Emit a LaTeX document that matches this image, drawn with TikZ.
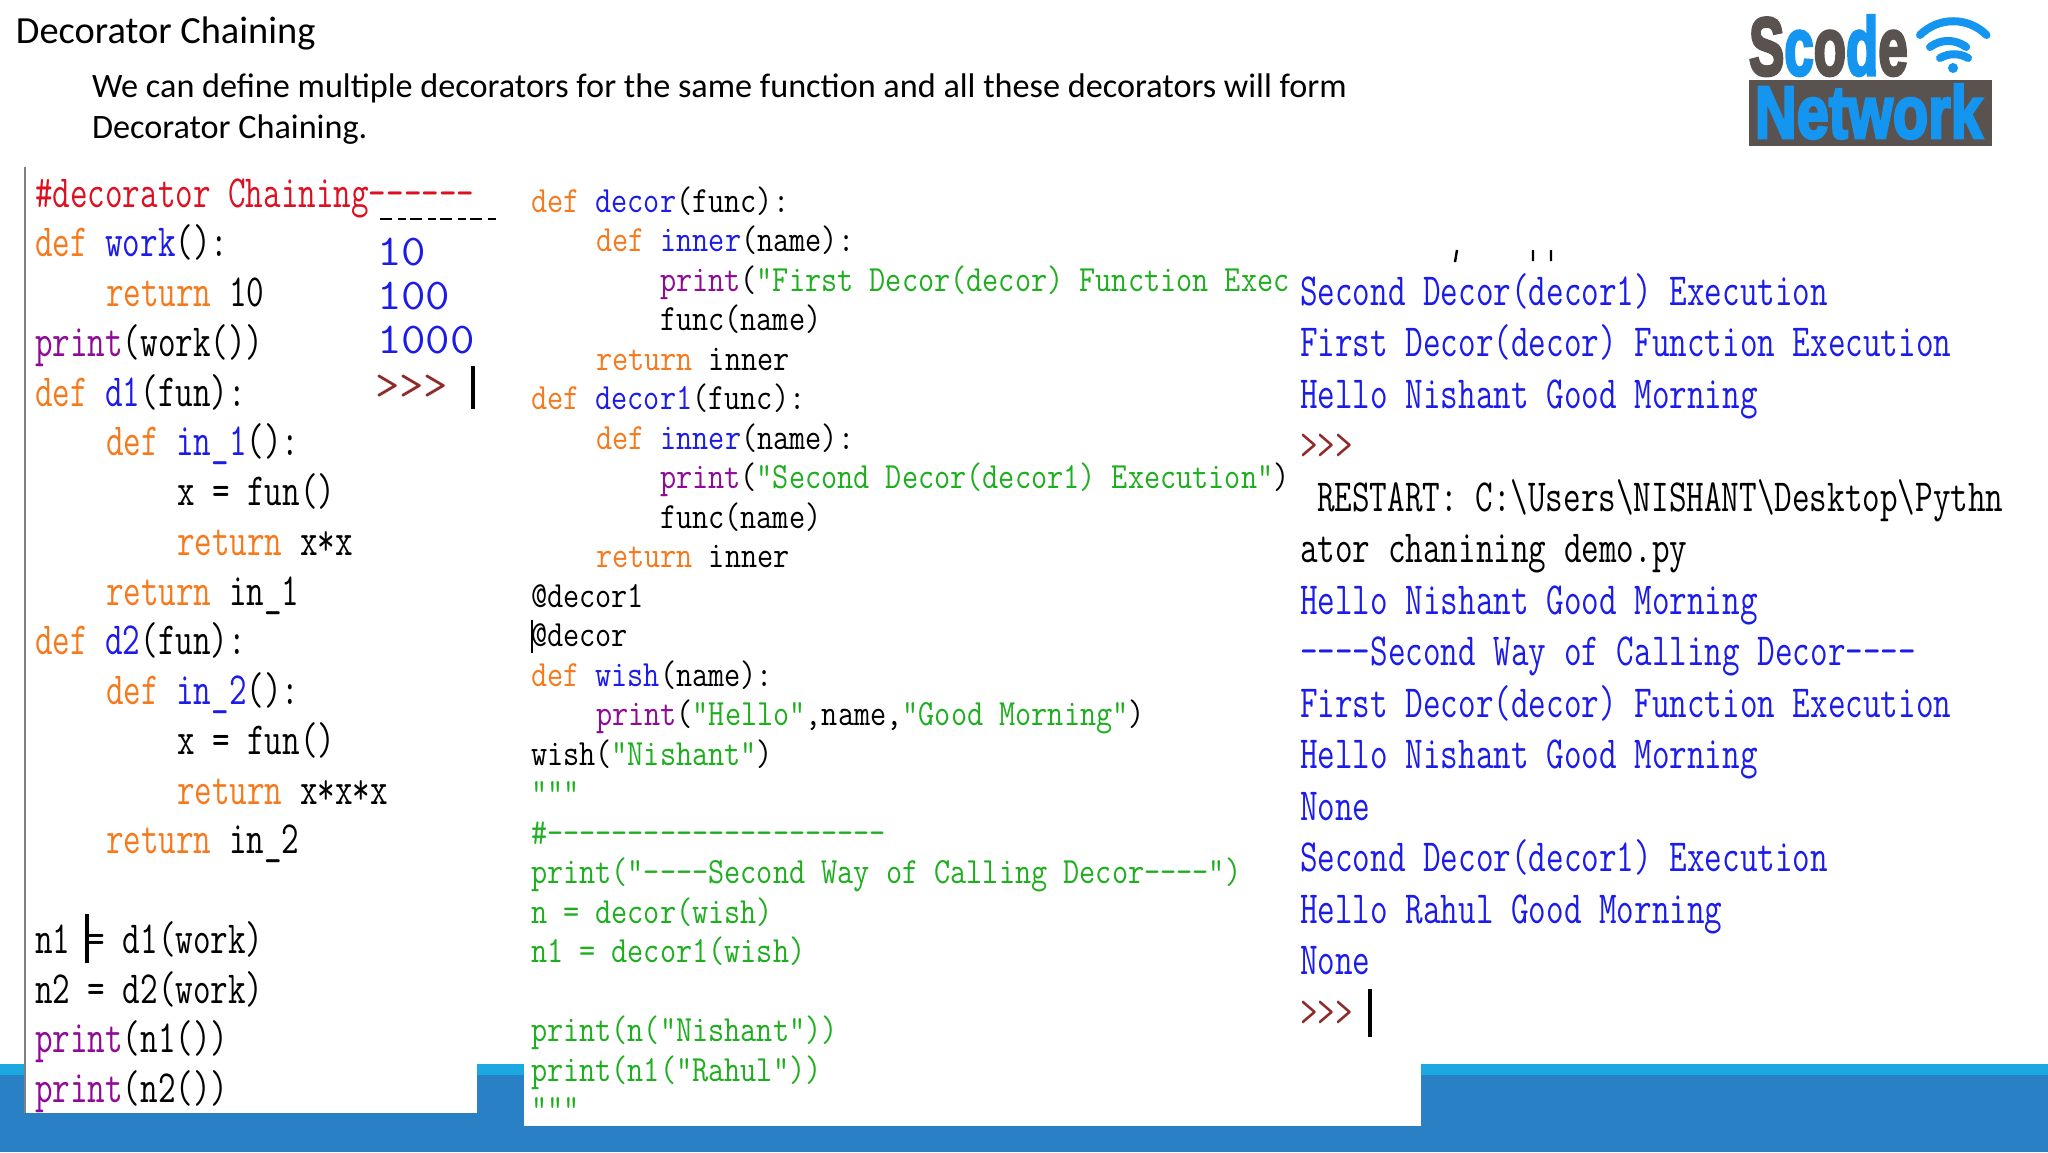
\documentclass[tikz,border=0pt]{standalone}
\usepackage{fontspec}
\setmainfont{Carlito}
\newfontfamily\logofont[FakeBold=4]{Liberation Sans Bold}
\definecolor{kwo}{HTML}{F57A1E}
\definecolor{fnb}{HTML}{1C1CE8}
\definecolor{bip}{HTML}{8F0A96}
\definecolor{str}{HTML}{1FAE1F}
\definecolor{cmr}{HTML}{DD1022}
\definecolor{prm}{HTML}{8E2A2A}
\definecolor{stripe}{HTML}{1CA8E0}
\definecolor{band}{HTML}{2980C4}
\definecolor{logog}{HTML}{59524F}
\definecolor{logob}{HTML}{1496F0}
\newcommand\K[1]{\textcolor{kwo}{#1}}
\newcommand\F[1]{\textcolor{fnb}{#1}}
\newcommand\B[1]{\textcolor{bip}{#1}}
\newcommand\G[1]{\textcolor{str}{#1}}
\newcommand\lcode[4]{\node[leftcode] (#1) at (#2,{207+49.75*#3}) {#4};}
\newcommand\mcode[4]{\node[midcode] (#1) at (#2,{212+39.5*#3}) {#4};}
\newcommand\rcode[4]{\node[rightcode] (#1) at (#2,{305+51.5*#3}) {#4};}
\tikzset{
  x=0.5pt,y=-0.5pt,
  textline/.style={anchor=base west,inner sep=0pt,outer sep=0pt},
  leftcode/.style={textline,font=\fontsize{23}{23}\selectfont\ttfamily,xscale=.742,transform shape},
  midcode/.style={textline,font=\fontsize{18.5}{18.5}\selectfont\ttfamily,xscale=.847,transform shape},
  rightcode/.style={textline,font=\fontsize{23}{23}\selectfont\ttfamily,text=fnb,xscale=.743,transform shape},
  outcode/.style={textline,font=\fontsize{22}{22}\selectfont\ttfamily,text=fnb,xscale=1.08,transform shape},
  cursor/.style={line width=1.6pt,black},
  lineone/.style={textline,font=\fontsize{19.2}{19.2}\selectfont},
  linetwo/.style={textline,font=\fontsize{17.1}{17.1}\selectfont},
  wifiarc/.style={logob,line width=4pt,line cap=round},
}
\begin{document}
\begin{tikzpicture}
\useasboundingbox (0,0) rectangle (2048,1152);
\fill[white] (0,0) rectangle (2048,1152);
\fill[stripe] (0,1064) rectangle (2048,1075);
\fill[band] (0,1075) rectangle (2048,1152);
\fill[white] (26,167) rectangle (477,1113);
\fill[white] (524,167) rectangle (1421,1126);
\coordinate (railA) at (25,167);
\coordinate (railB) at (25,1113);
\draw[gray,line width=.8pt] (railA) -- (railB);

\node[lineone] (title) at (16,43) {Decorator Chaining};
\node[linetwo] (bodya) at (92,97) {We can define multiple decorators for the same function and all these decorators will form};
\node[linetwo] (bodyb) at (92,138) {Decorator Chaining.};

% left source
\lcode{la}{35}{0}{\textcolor{cmr}{\#decorator Chaining------}}
\lcode{lb}{35}{1}{\K{def} \F{work}():}
\lcode{lc}{106}{2}{\K{return} 10}
\lcode{ld}{35}{3}{\B{print}(work())}
\lcode{le}{35}{4}{\K{def} \F{d1}(fun):}
\lcode{lf}{106}{5}{\K{def} \F{in\_1}():}
\lcode{lg}{177}{6}{x = fun()}
\lcode{lh}{177}{7}{\K{return} x*x}
\lcode{li}{106}{8}{\K{return} in\_1}
\lcode{lj}{35}{9}{\K{def} \F{d2}(fun):}
\lcode{lk}{106}{10}{\K{def} \F{in\_2}():}
\lcode{ll}{177}{11}{x = fun()}
\lcode{lm}{177}{12}{\K{return} x*x*x}
\lcode{ln}{106}{13}{\K{return} in\_2}
\lcode{lo}{35}{15}{n1 = d1(work)}
\lcode{lp}{35}{16}{n2 = d2(work)}
\lcode{lq}{35}{17}{\B{print}(n1())}
\lcode{lr}{35}{18}{\B{print}(n2())}
\coordinate (curAa) at (87,914);
\coordinate (curAb) at (87,963);
\draw[cursor] (curAa) -- (curAb);

% small output
\coordinate (dashA) at (380,219);
\coordinate (dashB) at (498,219);
\draw[black,line width=.8pt,dash pattern=on 6pt off 3pt on 4pt off 2pt] (dashA) -- (dashB);
\node[outcode] (oa) at (377,265) {10};
\node[outcode] (ob) at (377,309) {100};
\node[outcode] (oc) at (377,353) {1000};
\node[outcode,text=prm] (od) at (375,399) {>>>};
\coordinate (curBa) at (473,366);
\coordinate (curBb) at (473,409);
\draw[cursor] (curBa) -- (curBb);

% middle source
\mcode{ma}{531}{0}{\K{def} \F{decor}(func):}
\mcode{mb}{596}{1}{\K{def} \F{inner}(name):}
\mcode{mc}{660}{2}{\B{print}(\G{"First Decor(decor) Function Exec}}
\mcode{md}{660}{3}{func(name)}
\mcode{me}{596}{4}{\K{return} inner}
\mcode{mf}{531}{5}{\K{def} \F{decor1}(func):}
\mcode{mg}{596}{6}{\K{def} \F{inner}(name):}
\mcode{mh}{660}{7}{\B{print}(\G{"Second Decor(decor1) Execution"})}
\mcode{mi}{660}{8}{func(name)}
\mcode{mj}{596}{9}{\K{return} inner}
\mcode{mk}{531}{10}{@decor1}
\mcode{ml}{531}{11}{@decor}
\mcode{mm}{531}{12}{\K{def} \F{wish}(name):}
\mcode{mn}{596}{13}{\B{print}(\G{"Hello"},name,\G{"Good Morning"})}
\mcode{mo}{531}{14}{wish(\G{"Nishant"})}
\mcode{mp}{531}{15}{\G{"""}}
\mcode{mq}{531}{16}{\G{\#---------------------}}
\mcode{mr}{531}{17}{\G{print("----Second Way of Calling Decor----")}}
\mcode{ms}{531}{18}{\G{n = decor(wish)}}
\mcode{mt}{531}{19}{\G{n1 = decor1(wish)}}
\mcode{mu}{531}{21}{\G{print(n("Nishant"))}}
\mcode{mv}{531}{22}{\G{print(n1("Rahul"))}}
\mcode{mw}{531}{23}{\G{"""}}
\coordinate (curCa) at (532,620);
\coordinate (curCb) at (532,653);
\draw[black,line width=.7pt] (curCa) -- (curCb);

% right output
\coordinate (fragA) at (1533,250);
\coordinate (fragB) at (1533,261);
\coordinate (fragC) at (1551,250);
\coordinate (fragD) at (1551,261);
\coordinate (fragE) at (1457,250);
\coordinate (fragF) at (1455,262);
\draw[black,line width=1.2pt] (fragA) -- (fragB) (fragC) -- (fragD) (fragE) -- (fragF);
\rcode{ra}{1300}{0}{Second Decor(decor1) Execution}
\rcode{rb}{1300}{1}{First Decor(decor) Function Execution}
\rcode{rc}{1300}{2}{Hello Nishant Good Morning}
\rcode{rd}{1300}{3}{\textcolor{prm}{>>>}}
\rcode{re}{1317}{4}{\textcolor{black}{RESTART: C:\textbackslash Users\textbackslash NISHANT\textbackslash Desktop\textbackslash Pythn}}
\rcode{rf}{1300}{5}{\textcolor{black}{ator chanining demo.py}}
\rcode{rg}{1300}{6}{Hello Nishant Good Morning}
\rcode{rh}{1300}{7}{----Second Way of Calling Decor----}
\rcode{ri}{1300}{8}{First Decor(decor) Function Execution}
\rcode{rj}{1300}{9}{Hello Nishant Good Morning}
\rcode{rk}{1300}{10}{None}
\rcode{rl}{1300}{11}{Second Decor(decor1) Execution}
\rcode{rm}{1300}{12}{Hello Rahul Good Morning}
\rcode{rn}{1300}{13}{None}
\rcode{ro}{1300}{14}{\textcolor{prm}{>>>}}
\coordinate (curDa) at (1370,989);
\coordinate (curDb) at (1370,1037);
\draw[cursor] (curDa) -- (curDb);

% logo
\fill[logog] (1749,80) rectangle (1992,146);
\node[textline,font=\fontsize{37}{37}\logofont,text=logob,xscale=.78,transform shape] (network) at (1755,138) {Network};
\node[textline,font=\fontsize{41}{41}\logofont,xscale=.645,transform shape] (scode) at (1749,75) {\textcolor{logog}{S}\textcolor{logob}{c}\textcolor{logog}{o}\textcolor{logob}{d}\textcolor{logog}{e}};
\fill[logob] (1953,68) circle (5);
\draw[wifiarc] (1940,58) arc[start angle=-120,end angle=-60,radius=28];
\draw[wifiarc] (1930,47) arc[start angle=-127,end angle=-53,radius=30];
\draw[wifiarc] (1920,35) arc[start angle=-135,end angle=-45,radius=47];
\end{tikzpicture}
\end{document}
